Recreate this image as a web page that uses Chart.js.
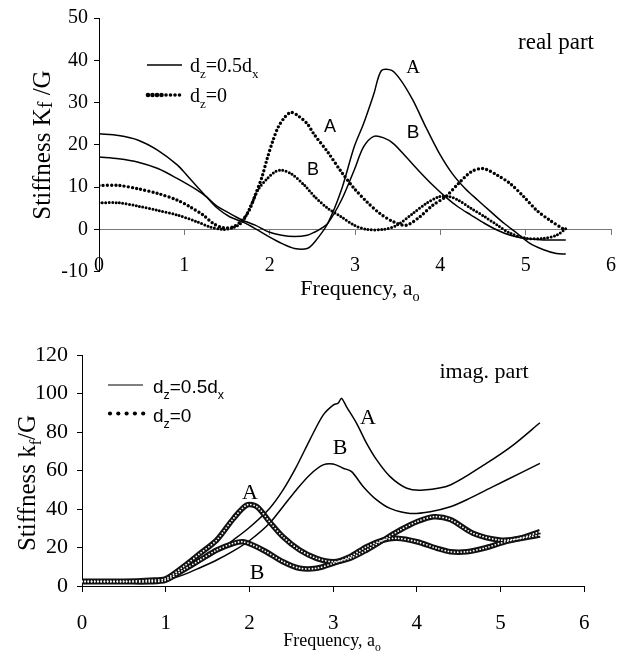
<!DOCTYPE html>
<html>
<head>
<meta charset="utf-8">
<script src="https://cdn.jsdelivr.net/npm/chart.js@4.4.0/dist/chart.umd.min.js"></script>
<style>
  body { margin: 0; background: #fff; }
  #wrap { position: relative; width: 635px; height: 659px; }
  canvas { position: absolute; left: 0; }
  #realChart { top: 0; }
  #imagChart { top: 310px; }
</style>
</head>
<body>
<div id="wrap">
  <canvas id="realChart" width="635" height="310"></canvas>
  <canvas id="imagChart" width="635" height="349"></canvas>
</div>
<script>
// real part (upper plot)
const realA_x = [0, 0.23, 0.46, 0.69, 0.92, 1.03, 1.15, 1.26, 1.37, 1.53, 1.68, 1.83, 1.99, 2.14, 2.29, 2.44, 2.53, 2.68, 2.84, 2.99, 3.10, 3.22, 3.31, 3.43, 3.54, 3.68, 3.83, 3.98, 4.14, 4.29, 4.44, 4.59, 4.75, 4.90, 5.05, 5.21, 5.36, 5.47];
const realA_y = [22.6, 22.2, 21.1, 18.7, 15.2, 12.8, 10.1, 7.7, 5.3, 3.0, 1.8, 0.2, -1.7, -3.3, -4.5, -4.5, -2.9, 1.4, 9.3, 19.5, 25.0, 32.0, 37.6, 37.6, 35.2, 30.5, 24.2, 18.3, 13.2, 9.7, 6.9, 4.2, 1.4, -0.9, -3.3, -4.8, -5.7, -5.8];
const realB_x = [0, 0.23, 0.46, 0.69, 0.92, 1.15, 1.26, 1.37, 1.53, 1.68, 1.83, 1.99, 2.14, 2.29, 2.44, 2.53, 2.60, 2.68, 2.84, 2.99, 3.10, 3.22, 3.33, 3.45, 3.60, 3.76, 3.91, 4.06, 4.21, 4.36, 4.52, 4.67, 4.82, 4.98, 5.21, 5.47];
const realB_y = [17.1, 16.7, 15.9, 14.4, 12.0, 9.3, 7.7, 5.7, 3.8, 2.2, 1.0, -0.6, -1.4, -1.7, -1.4, -0.6, 0.2, 1.4, 6.9, 14.0, 19.5, 22.0, 21.7, 20.3, 17.1, 13.6, 10.5, 7.7, 5.3, 3.4, 1.4, -0.2, -1.4, -2.1, -2.5, -2.5];
const realDotA_x = [0, 0.23, 0.46, 0.69, 0.92, 1.07, 1.22, 1.34, 1.45, 1.57, 1.68, 1.76, 1.83, 1.91, 1.97, 2.04, 2.10, 2.18, 2.25, 2.33, 2.44, 2.52, 2.68, 2.84, 2.99, 3.14, 3.29, 3.45, 3.60, 3.76, 3.91, 4.06, 4.21, 4.36, 4.50, 4.67, 4.82, 4.98, 5.13, 5.28, 5.45];
const realDotA_y = [10.4, 10.4, 9.6, 8.5, 6.9, 5.3, 3.4, 1.4, 0.4, 0.6, 2.2, 4.5, 8.1, 12.4, 16.7, 21.1, 24.2, 26.6, 27.7, 26.9, 25.0, 22.5, 18.3, 13.6, 9.7, 6.5, 3.8, 1.8, 1.0, 3.0, 5.7, 7.7, 10.8, 13.6, 14.4, 12.8, 10.8, 7.7, 4.5, 2.2, 0.0];
const realDotB_x = [0, 0.23, 0.46, 0.69, 0.92, 1.15, 1.30, 1.45, 1.57, 1.68, 1.79, 1.87, 1.97, 2.06, 2.14, 2.25, 2.41, 2.53, 2.68, 2.84, 2.99, 3.14, 3.33, 3.49, 3.68, 3.83, 3.98, 4.10, 4.21, 4.36, 4.52, 4.67, 4.82, 5.01, 5.21, 5.36, 5.47];
const realDotB_y = [6.3, 6.3, 5.5, 4.5, 3.4, 1.8, 0.6, 0.0, 0.4, 1.8, 6.1, 9.6, 12.0, 13.6, 14.0, 13.2, 10.4, 7.7, 5.0, 3.0, 1.0, 0.0, 0.0, 1.0, 3.8, 6.1, 7.7, 7.8, 6.9, 5.0, 3.0, 1.0, -0.9, -2.1, -2.1, -1.4, 0.2];

// imag. part (lower plot)
const imagA_x = [0, 0.5, 0.8, 1.0, 1.21, 1.41, 1.61, 1.81, 2.01, 2.24, 2.40, 2.56, 2.72, 2.88, 3.0, 3.06, 3.10, 3.16, 3.28, 3.40, 3.52, 3.68, 3.88, 4.08, 4.40, 4.83, 5.15, 5.47];
const imagA_y = [2.2, 2.6, 2.8, 3.2, 7.5, 12.5, 17.8, 24.0, 30.8, 40.3, 49.8, 61.9, 75.8, 88.8, 94.0, 95.0, 97.5, 93.1, 84.5, 74.1, 65.5, 56.8, 50.8, 49.9, 52.5, 63.7, 73.2, 84.8];
const imagB_x = [0, 0.5, 0.8, 1.0, 1.21, 1.41, 1.61, 1.81, 2.01, 2.24, 2.40, 2.56, 2.72, 2.88, 3.0, 3.12, 3.22, 3.36, 3.52, 3.68, 3.92, 4.16, 4.40, 4.59, 4.91, 5.23, 5.47];
const imagB_y = [2.2, 2.5, 2.7, 3.0, 5.8, 9.5, 13.5, 18.2, 23.9, 32.6, 41.2, 49.9, 57.7, 62.9, 63.4, 61.2, 59.4, 51.6, 44.7, 40.3, 37.7, 38.6, 41.2, 44.7, 51.6, 58.5, 63.7];
const imagDotA_x = [0, 0.5, 0.81, 1.0, 1.21, 1.41, 1.61, 1.81, 1.97, 2.09, 2.24, 2.40, 2.60, 2.80, 3.0, 3.20, 3.40, 3.60, 3.80, 4.00, 4.20, 4.40, 4.67, 4.99, 5.23, 5.47];
const imagDotA_y = [2.5, 2.5, 3.0, 3.8, 10.0, 16.9, 23.9, 35.1, 42.1, 41.2, 33.4, 25.6, 18.7, 14.4, 12.6, 14.4, 18.7, 23.9, 29.1, 33.4, 36.0, 34.5, 27.4, 23.9, 24.8, 28.2];
const imagDotB_x = [0, 0.5, 0.81, 1.0, 1.21, 1.41, 1.61, 1.81, 1.92, 2.04, 2.20, 2.40, 2.60, 2.80, 3.0, 3.20, 3.40, 3.60, 3.76, 4.00, 4.24, 4.40, 4.60, 4.80, 5.10, 5.47];
const imagDotB_y = [2.2, 2.2, 2.2, 3.0, 8.3, 13.5, 18.7, 22.2, 23.0, 21.3, 17.8, 12.6, 9.2, 9.2, 11.8, 15.2, 20.4, 23.9, 24.8, 23.0, 19.6, 17.8, 17.8, 19.6, 23.5, 26.5];

const SERIF = '"Liberation Serif", "Times New Roman", serif';
const SANS = '"Liberation Sans", Arial, sans-serif';

Chart.defaults.font.family = SERIF;
Chart.defaults.color = '#000';

const pts = (xs, ys) => xs.map((x, i) => ({ x: x, y: ys[i] }));

// text with subscript parts: [text, scale, drop]
function drawRich(ctx, parts, x, y, size, family, align) {
  let w = 0;
  parts.forEach(p => {
    ctx.font = (size * (p[1] || 1)) + 'px ' + family;
    w += ctx.measureText(p[0]).width;
  });
  let cx = align === 'center' ? x - w / 2 : x;
  ctx.textAlign = 'left';
  ctx.textBaseline = 'alphabetic';
  parts.forEach(p => {
    ctx.font = (size * (p[1] || 1)) + 'px ' + family;
    ctx.fillText(p[0], cx, y + size * (p[2] || 0));
    cx += ctx.measureText(p[0]).width;
  });
}

function drawText(ctx, txt, x, y, size, family) {
  ctx.font = size + 'px ' + family;
  ctx.textAlign = 'center';
  ctx.textBaseline = 'middle';
  ctx.fillText(txt, x, y);
}

const TENSION = 0.3;

function solid(data, order) {
  return { data: data, borderColor: '#000', borderWidth: 1.5, pointRadius: 0,
           tension: TENSION, order: order };
}

function baseScales(yMin, yMax, yStep, yWidth, yFont, yPad, xFont, xPad, xBorder) {
  return {
    x: {
      type: 'linear', min: 0, max: 6, position: { y: 0 },
      ticks: { stepSize: 1, autoSkip: false, maxRotation: 0, font: { size: xFont }, padding: xPad, color: '#000' },
      grid: { drawOnChartArea: false, tickLength: 5, color: xBorder },
      border: { color: xBorder, width: 1 }
    },
    y: {
      min: yMin, max: yMax,
      ticks: { stepSize: yStep, font: { size: yFont }, padding: yPad, color: '#000' },
      grid: { drawOnChartArea: false, tickLength: 5, color: '#000' },
      border: { color: '#000', width: 1 },
      afterFit: s => { s.width = yWidth; }
    }
  };
}

const realDecor = {
  id: 'realDecor',
  afterDraw(chart) {
    const ctx = chart.ctx;
    ctx.save();
    ctx.fillStyle = '#000';
    // axis titles
    drawRich(ctx, [['Frequency, a'], ['o', 0.65, 0.25]], 360, 295, 22, SERIF, 'center');
    ctx.save();
    ctx.translate(50, 145);
    ctx.rotate(-Math.PI / 2);
    drawRich(ctx, [['Stiffness K'], ['f', 0.8, 0.08], [' /G']], 0, 0, 25, SERIF, 'center');
    ctx.restore();
    drawText(ctx, 'real part', 556, 43, 23, SERIF);
    // curve labels
    drawText(ctx, 'A', 413, 68, 19, SERIF);
    drawText(ctx, 'B', 413, 133, 19, SANS);
    drawText(ctx, 'A', 330, 127, 18, SANS);
    drawText(ctx, 'B', 313, 170, 18, SANS);
    // legend
    ctx.strokeStyle = '#000';
    ctx.lineWidth = 1.5;
    ctx.beginPath(); ctx.moveTo(147, 65); ctx.lineTo(182, 65); ctx.stroke();
    for (let x = 148; x <= 182; x += 4.5) {
      ctx.beginPath(); ctx.arc(x, 95, x < 162 ? 2.3 : 1.8, 0, Math.PI * 2); ctx.fill();
    }
    drawRich(ctx, [['d'], ['z', 0.65, 0.3], ['=0.5d'], ['x', 0.65, 0.3]], 190, 72, 20, SERIF, 'left');
    drawRich(ctx, [['d'], ['z', 0.65, 0.3], ['=0']], 190, 102, 20, SERIF, 'left');
    ctx.restore();
  }
};

const imagDecor = {
  id: 'imagDecor',
  afterDraw(chart) {
    const ctx = chart.ctx;
    ctx.save();
    ctx.fillStyle = '#000';
    drawRich(ctx, [['Frequency, a'], ['o', 0.65, 0.25]], 332, 336, 18, SERIF, 'center');
    ctx.save();
    ctx.translate(35, 173);
    ctx.rotate(-Math.PI / 2);
    drawRich(ctx, [['Stiffness k'], ['f', 0.65, 0.25], ['/G']], 0, 0, 25, SERIF, 'center');
    ctx.restore();
    drawText(ctx, 'imag. part', 484, 62, 22, SERIF);
    drawText(ctx, 'A', 368, 108, 22, SERIF);
    drawText(ctx, 'B', 340, 138, 22, SERIF);
    drawText(ctx, 'A', 250, 183, 22, SERIF);
    drawText(ctx, 'B', 257, 263, 22, SERIF);
    // legend
    ctx.strokeStyle = '#000';
    ctx.lineWidth = 1.2;
    ctx.beginPath(); ctx.moveTo(108, 75); ctx.lineTo(143, 75); ctx.stroke();
    for (let i = 0; i < 5; i++) {
      ctx.beginPath(); ctx.arc(110 + i * 8.3, 103.5, 2.1, 0, Math.PI * 2); ctx.fill();
    }
    drawRich(ctx, [['d'], ['z', 0.65, 0.3], ['=0.5d'], ['x', 0.65, 0.3]], 153, 83, 19, SANS, 'left');
    drawRich(ctx, [['d'], ['z', 0.65, 0.3], ['=0']], 153, 112, 19, SANS, 'left');
    ctx.restore();
  }
};

const commonPlugins = { legend: { display: false }, tooltip: { enabled: false } };

new Chart(document.getElementById('realChart'), {
  type: 'line',
  data: {
    datasets: [
      solid(pts(realA_x, realA_y), 1),
      solid(pts(realB_x, realB_y), 1),
      { data: pts(realDotA_x, realDotA_y), borderColor: '#000', borderWidth: 3.4, borderDash: [0, 4.2],
        borderCapStyle: 'round', pointRadius: 0, tension: TENSION, order: 0 },
      { data: pts(realDotB_x, realDotB_y), borderColor: '#000', borderWidth: 3.0, borderDash: [0, 3.4],
        borderCapStyle: 'round', pointRadius: 0, tension: TENSION, order: 0 }
    ]
  },
  options: {
    responsive: false, animation: false,
    layout: { padding: { top: 17, right: 12, bottom: 38.3, left: 0 } },
    scales: baseScales(-10, 50, 10, 99, 20, 6, 20, 19, '#777'),
    plugins: commonPlugins
  },
  plugins: [realDecor]
});

new Chart(document.getElementById('imagChart'), {
  type: 'line',
  data: {
    datasets: [
      // white specks drawn over the dark bands give the ring-chain look
      { data: pts(imagDotA_x, imagDotA_y), borderColor: '#fff', borderWidth: 1.8, borderDash: [0, 3.2],
        borderCapStyle: 'round', pointRadius: 0, tension: TENSION, order: 0 },
      { data: pts(imagDotB_x, imagDotB_y), borderColor: '#fff', borderWidth: 1.8, borderDash: [0, 3.2],
        borderCapStyle: 'round', pointRadius: 0, tension: TENSION, order: 0 },
      { data: pts(imagDotA_x, imagDotA_y), borderColor: '#111', borderWidth: 5.5, pointRadius: 0,
        tension: TENSION, order: 1 },
      { data: pts(imagDotB_x, imagDotB_y), borderColor: '#111', borderWidth: 5.5, pointRadius: 0,
        tension: TENSION, order: 1 },
      solid(pts(imagA_x, imagA_y), 2),
      solid(pts(imagB_x, imagB_y), 2)
    ]
  },
  options: {
    responsive: false, animation: false,
    layout: { padding: { top: 45, right: 50.7, bottom: 73, left: 0 } },
    scales: baseScales(0, 120, 20, 82, 22, 9, 21, 19.5, '#000'),
    plugins: commonPlugins
  },
  plugins: [imagDecor]
});
</script>
</body>
</html>
